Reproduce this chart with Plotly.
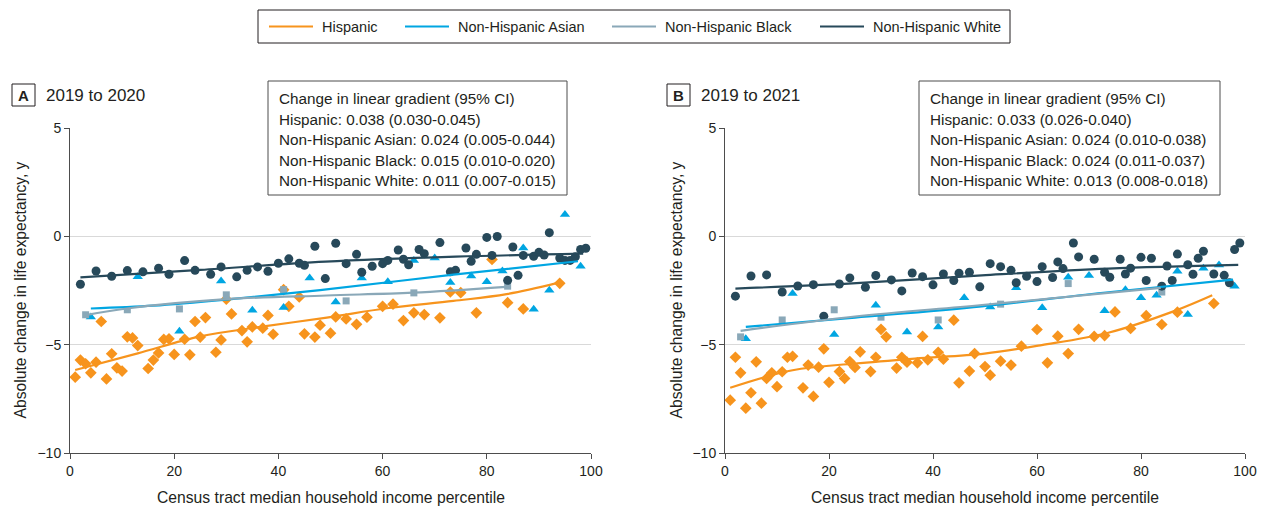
import plotly.graph_objects as go

W, H = 1265, 508

# ---------------- data ----------------
# Panel A: 2019 to 2020
a_his_x = [1,2,3,4,5,6,7,8,9,10,11,12,13,15,16,17,18,19,20,22,23,24,25,26,28,29,30,31,33,34,
           35,37,38,39,41,42,44,45,47,48,50,51,53,55,57,60,62,64,66,68,71,73,75,78,81,84,87,94]
a_his_y = [-6.50,-5.71,-5.88,-6.30,-5.81,-3.93,-6.58,-5.42,-6.07,-6.22,-4.64,-4.69,-5.04,-6.10,-5.71,
           -5.38,-4.76,-4.73,-5.45,-4.75,-5.47,-3.93,-4.65,-3.75,-5.35,-4.78,-2.90,-3.58,-4.35,-4.87,
           -4.18,-4.24,-3.65,-4.52,-2.46,-3.23,-2.80,-4.50,-4.65,-4.10,-4.47,-3.72,-3.81,-4.06,-3.73,
           -3.23,-3.13,-3.89,-3.53,-3.61,-3.76,-2.57,-2.60,-3.53,-1.07,-3.06,-3.35,-2.17]
a_asi_x = [4,13,21,29,35,41,46,51,56,61,66,70,73,77,80,83,87,89,92,95,98]
a_asi_y = [-3.72,-1.87,-4.38,-2.06,-3.41,-3.29,-1.92,-3.03,-1.92,-2.10,-1.11,-1.00,-2.13,-1.83,
           -2.10,-1.60,-0.54,-3.36,-2.49,1.01,-1.38]
a_blk_x = [3,11,21,30,41,53,66,84]
a_blk_y = [-3.62,-3.39,-3.35,-2.70,-2.46,-2.98,-2.61,-2.30]
a_wht_x = [2,5,8,11,14,17,19,22,24,27,29,32,34,36,38,40,42,44,45,47,49,51,53,55,56,58,60,61,
           63,64,65,67,68,71,73,74,76,77,78,80,81,82,84,85,86,87,89,90,91,92,94,95,96,97,98,99]
a_wht_y = [-2.21,-1.60,-1.84,-1.58,-1.64,-1.47,-1.75,-1.12,-1.57,-1.75,-1.41,-1.87,-1.57,-1.41,
           -1.61,-1.24,-1.04,-1.24,-1.34,-0.46,-1.95,-0.32,-1.26,-0.83,-1.66,-1.38,-1.26,-1.11,
           -0.63,-1.06,-1.31,-0.61,-0.80,-0.29,-1.64,-1.57,-0.54,-1.15,-0.83,-0.05,-0.88,-0.01,
           -2.03,-0.49,-1.80,-0.88,-0.92,-0.74,-0.86,0.17,-1.00,-1.11,-1.11,-0.94,-0.61,-0.55]
# fitted curves, panel A
a_his_fit_x = [1,13,25,36.5,49.3,60.8,73.6,83.8,93.6]
a_his_fit_y = [-6.17,-5.40,-4.62,-4.18,-3.75,-3.32,-2.98,-2.67,-2.15]
a_asi_fit_x = [4,16,30,48,73.6,97.5]
a_asi_fit_y = [-3.33,-3.20,-2.92,-2.48,-1.77,-1.15]
a_blk_fit_x = [3,10.9,30,49.3,65.8,83.7]
a_blk_fit_y = [-3.64,-3.33,-2.90,-2.73,-2.60,-2.33]
a_wht_fit_x = [2,25,49,74,98.5]
a_wht_fit_y = [-1.89,-1.55,-1.17,-0.94,-0.80]

# Panel B: 2019 to 2021
b_his_x = a_his_x
b_his_y = [-7.56,-5.58,-6.30,-7.93,-7.22,-5.79,-7.70,-6.56,-6.30,-6.94,-6.25,-5.58,-5.54,-6.99,-5.94,
           -7.39,-6.04,-5.19,-6.74,-6.24,-6.56,-5.78,-6.05,-5.33,-6.24,-5.58,-4.29,-4.64,-6.08,-5.58,
           -5.81,-5.84,-4.62,-5.70,-5.35,-5.67,-3.87,-6.76,-6.22,-5.41,-6.01,-6.41,-5.76,-5.94,-5.07,
           -4.30,-5.84,-4.61,-5.41,-4.29,-4.62,-4.58,-3.49,-4.25,-3.66,-4.07,-3.50,-3.10]
b_asi_x = a_asi_x
b_asi_y = [-4.73,-2.64,-4.53,-3.18,-4.41,-4.18,-2.84,-3.26,-2.37,-3.30,-1.89,-1.81,-3.44,-2.46,
           -2.84,-2.72,-1.61,-3.61,-1.47,-1.32,-2.30]
b_blk_x = a_blk_x
b_blk_y = [-4.64,-3.86,-3.39,-3.73,-3.86,-3.13,-2.18,-2.57]
b_wht_x = [2,5,8,11,14,17,19,22,24,27,29,32,34,36,38,40,42,44,45,47,49,51,53,55,56,58,60,61,
           63,64,65,67,68,71,73,74,76,77,78,80,81,82,84,85,86,87,89,90,91,92,94,96,97,98,99]
b_wht_y = [-2.76,-1.83,-1.78,-2.57,-2.29,-2.23,-3.69,-2.20,-1.92,-2.35,-1.81,-2.01,-2.52,-1.69,
           -1.86,-2.24,-1.74,-2.04,-1.70,-1.66,-2.33,-1.26,-1.40,-1.57,-2.14,-1.84,-2.09,-1.40,
           -1.90,-1.18,-1.49,-0.31,-0.95,-1.06,-1.66,-1.89,-1.06,-1.74,-1.47,-0.97,-2.04,-1.01,
           -2.30,-1.37,-2.04,-0.82,-1.31,-1.75,-1.01,-0.69,-1.74,-1.80,-2.14,-0.61,-0.31]
b_his_fit_x = [1,13,25,36.5,49.9,60.9,73.7,86.5,93.7]
b_his_fit_y = [-6.99,-6.18,-5.87,-5.64,-5.41,-5.02,-4.45,-3.44,-2.72]
b_asi_fit_x = [4,25,49.4,73.7,97.7]
b_asi_fit_y = [-4.18,-3.75,-3.23,-2.58,-2.00]
b_blk_fit_x = [3,25,49.4,83.8]
b_blk_fit_y = [-4.36,-3.70,-3.17,-2.38]
b_wht_fit_x = [2,23.7,49.4,73.7,98.7]
b_wht_fit_y = [-2.41,-2.18,-1.80,-1.49,-1.32]

groups = ["Hispanic", "Non-Hispanic Asian", "Non-Hispanic Black", "Non-Hispanic White"]
x_ticks = [0, 20, 40, 60, 80, 100]
y_ticks = [-10, -5, 0, 5]

panel_a_lines = ["Change in linear gradient (95% CI)",
                 "Hispanic: 0.038 (0.030-0.045)",
                 "Non-Hispanic Asian: 0.024 (0.005-0.044)",
                 "Non-Hispanic Black: 0.015 (0.010-0.020)",
                 "Non-Hispanic White: 0.011 (0.007-0.015)"]
panel_b_lines = ["Change in linear gradient (95% CI)",
                 "Hispanic: 0.033 (0.026-0.040)",
                 "Non-Hispanic Asian: 0.024 (0.010-0.038)",
                 "Non-Hispanic Black: 0.024 (0.011-0.037)",
                 "Non-Hispanic White: 0.013 (0.008-0.018)"]

# ---------------- styles ----------------
colors = {"Hispanic": "#F7941D", "Non-Hispanic Asian": "#00A6E2",
          "Non-Hispanic Black": "#8AA8B8", "Non-Hispanic White": "#27495A"}
symbols = {"Hispanic": "diamond", "Non-Hispanic Asian": "triangle-up",
           "Non-Hispanic Black": "square", "Non-Hispanic White": "circle"}
msize = {"Hispanic": 9, "Non-Hispanic Asian": 9, "Non-Hispanic Black": 7, "Non-Hispanic White": 9}
FONT = "Liberation Sans, Arial, sans-serif"
TXT = "#231F20"

def px(x):
    return x / W

def py(y):
    return 1 - y / H

fig = go.Figure()

panels = [
    ("x", "y", [(a_his_x, a_his_y), (a_asi_x, a_asi_y), (a_blk_x, a_blk_y), (a_wht_x, a_wht_y)],
     [(a_his_fit_x, a_his_fit_y), (a_asi_fit_x, a_asi_fit_y), (a_blk_fit_x, a_blk_fit_y), (a_wht_fit_x, a_wht_fit_y)]),
    ("x2", "y2", [(b_his_x, b_his_y), (b_asi_x, b_asi_y), (b_blk_x, b_blk_y), (b_wht_x, b_wht_y)],
     [(b_his_fit_x, b_his_fit_y), (b_asi_fit_x, b_asi_fit_y), (b_blk_fit_x, b_blk_fit_y), (b_wht_fit_x, b_wht_fit_y)]),
]

for pi, (xa, ya, pts, fits) in enumerate(panels):
    for g, (xs, ys) in zip(groups, pts):
        fig.add_trace(go.Scatter(x=xs, y=ys, mode="markers", xaxis=xa, yaxis=ya, name=g,
                                 marker=dict(symbol=symbols[g], size=msize[g], color=colors[g],
                                             line=dict(width=0)),
                                 showlegend=False, hoverinfo="skip"))
for pi, (xa, ya, pts, fits) in enumerate(panels):
    for g, (xs, ys) in zip(groups, fits):
        fig.add_trace(go.Scatter(x=xs, y=ys, mode="lines", xaxis=xa, yaxis=ya, name=g,
                                 line=dict(color=colors[g], width=2.2, shape="spline", smoothing=1.0),
                                 showlegend=False))

axis_common = dict(showline=True, linecolor="#4D4D4D", linewidth=1, ticks="outside", ticklen=5,
                   tickcolor="#4D4D4D", tickfont=dict(family=FONT, size=14, color=TXT),
                   zeroline=False, fixedrange=True, automargin=False)
ydom = [py(453), py(128)]
fig.update_layout(
    xaxis=dict(domain=[px(70), px(591)], range=[0, 100], tickvals=x_ticks, showgrid=False,
               anchor="y", **axis_common),
    yaxis=dict(domain=ydom, range=[-10, 5], tickvals=y_ticks, showgrid=True, gridcolor="#D9D9D9",
               gridwidth=1, anchor="x", **axis_common),
    xaxis2=dict(domain=[px(725), px(1245)], range=[0, 100], tickvals=x_ticks, showgrid=False,
                anchor="y2", **axis_common),
    yaxis2=dict(domain=ydom, range=[-10, 5], tickvals=y_ticks, showgrid=True, gridcolor="#D9D9D9",
                gridwidth=1, anchor="x2", **axis_common),
)

shapes = []
annotations = []

# legend (drawn as shapes + text so entry spacing matches)
shapes.append(dict(type="rect", xref="paper", yref="paper", x0=px(258), x1=px(1010),
                   y0=py(43), y1=py(10), line=dict(color="#231F20", width=1), fillcolor="white"))
for g, lx in zip(groups, [269, 405, 612, 820]):
    shapes.append(dict(type="line", xref="paper", yref="paper", x0=px(lx), x1=px(lx + 44),
                       y0=py(26.5), y1=py(26.5), line=dict(color=colors[g], width=2.2)))
    annotations.append(dict(xref="paper", yref="paper", x=px(lx + 51), y=py(26.5), text=g,
                            showarrow=False, xanchor="left", yanchor="middle",
                            font=dict(family=FONT, size=14.5, color=TXT)))

# panel labels & stat boxes
for (bx0, bx1, letter, title, tx, sx0, sx1, lines, ytx) in [
        (12, 35, "A", "2019 to 2020", 44, 268, 567, panel_a_lines, 20),
        (667, 690, "B", "2019 to 2021", 699, 919, 1220, panel_b_lines, 676)]:
    shapes.append(dict(type="rect", xref="paper", yref="paper", x0=px(bx0), x1=px(bx1),
                       y0=py(106), y1=py(84), line=dict(color="#231F20", width=1),
                       fillcolor="white"))
    annotations.append(dict(xref="paper", yref="paper", x=px((bx0 + bx1) / 2), y=py(95),
                            text="<b>%s</b>" % letter, showarrow=False, xanchor="center",
                            yanchor="middle", font=dict(family=FONT, size=15, color=TXT)))
    annotations.append(dict(xref="paper", yref="paper", x=px(tx), y=py(95), text=title,
                            showarrow=False, xanchor="left", yanchor="middle",
                            font=dict(family=FONT, size=17, color=TXT)))
    shapes.append(dict(type="rect", xref="paper", yref="paper", x0=px(sx0), x1=px(sx1),
                       y0=py(195), y1=py(81), line=dict(color="#4D4D4D", width=1),
                       fillcolor="white", layer="above"))
    for i, t in enumerate(lines):
        annotations.append(dict(xref="paper", yref="paper", x=px(sx0 + 9), y=py(98.5 + 20.5 * i),
                                text=t, showarrow=False, xanchor="left", yanchor="middle",
                                font=dict(family=FONT, size=15.3, color=TXT)))
    # y-axis title
    annotations.append(dict(xref="paper", yref="paper", x=px(ytx), y=py(290.5),
                            text="Absolute change in life expectancy, y", showarrow=False,
                            textangle=-90, xanchor="center", yanchor="middle",
                            font=dict(family=FONT, size=15.7, color=TXT)))

for cx in [(70 + 591) / 2, (725 + 1245) / 2]:
    annotations.append(dict(xref="paper", yref="paper", x=px(cx), y=py(497),
                            text="Census tract median household income percentile", showarrow=False,
                            xanchor="center", yanchor="middle",
                            font=dict(family=FONT, size=15.7, color=TXT)))

fig.update_layout(
    width=W, height=H, margin=dict(l=0, r=0, t=0, b=0, autoexpand=False),
    paper_bgcolor="white", plot_bgcolor="white",
    shapes=shapes, annotations=annotations,
    showlegend=False,
)

fig.write_html("out.html", config={"displayModeBar": False},
               post_script="document.body.style.margin='0px';document.body.style.overflow='hidden';")
